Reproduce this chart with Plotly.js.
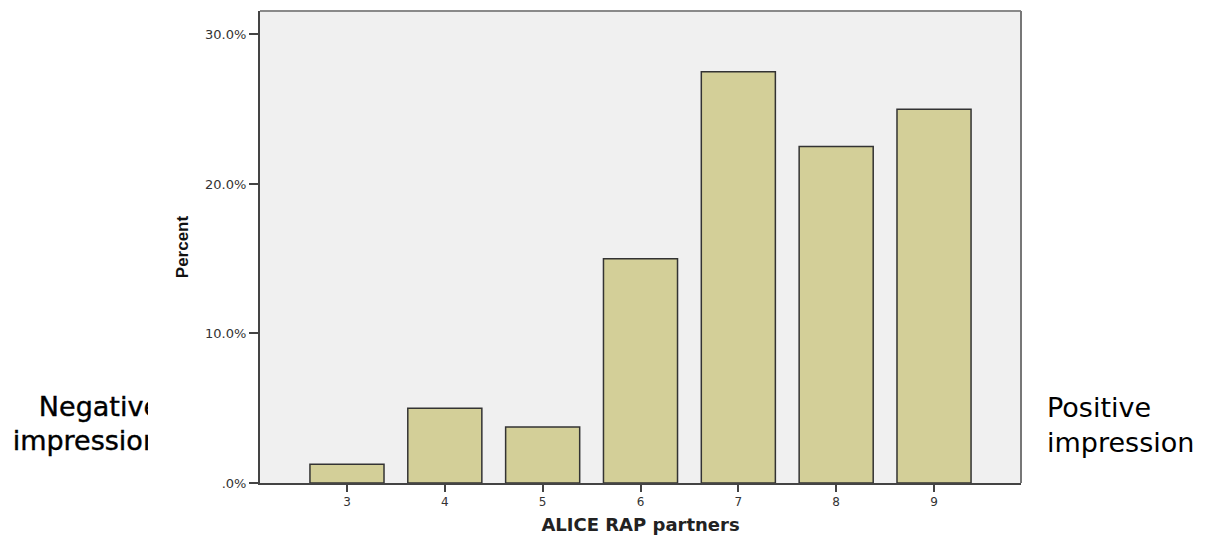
<!DOCTYPE html>
<html>
<head>
<meta charset="utf-8">
<script src="https://cdn.plot.ly/plotly-3.0.1.min.js"></script>
<style>
  html, body { margin: 0; padding: 0; background: #fff; }
  #wrap { position: relative; width: 1212px; height: 536px; }
  #chart { position: absolute; left: 0; top: 0; width: 1212px; height: 536px; }
  #negclip { position: absolute; left: 0; top: 390px; width: 148px; height: 80px; overflow: hidden; }
  #negtext { position: absolute; right: -12px; top: 0; text-align: right; white-space: nowrap;
             font-family: "DejaVu Sans", sans-serif; font-size: 27px; line-height: 34px; color: #000;
             -webkit-text-stroke: 0.4px #000; }
</style>
</head>
<body>
<div id="wrap">
  <div id="chart"></div>
  <div id="negclip"><div id="negtext">Negative<br>impression</div></div>
</div>
<script>
// Data
const categories = [3, 4, 5, 6, 7, 8, 9];
const percentValues = [1.25, 5.0, 3.75, 15.0, 27.5, 22.5, 25.0];
const yTickVals = [0, 10, 20, 30];
const yTickText = [".0%", "10.0%", "20.0%", "30.0%"];
const xTitle = "ALICE RAP partners";
const yTitle = "Percent";
const leftLabel = "Negative<br>impression";
const rightLabel = "Positive<br>impression";

const trace = {
  type: "bar",
  x: categories,
  y: percentValues,
  width: 0.757,
  marker: { color: "#d3cf98", line: { color: "#333333", width: 1.5 } },
  hoverinfo: "x+y"
};

const layout = {
  width: 1212,
  height: 536,
  margin: { l: 260, r: 191, t: 11, b: 53, pad: 0 },
  paper_bgcolor: "#ffffff",
  plot_bgcolor: "#f0f0f0",
  showlegend: false,
  bargap: 0,
  xaxis: {
    range: [2.111, 9.889],
    tickmode: "array",
    tickvals: categories,
    ticktext: categories.map(String),
    ticks: "outside",
    ticklen: 7,
    tickwidth: 2,
    tickcolor: "#444",
    showgrid: false,
    zeroline: false,
    showline: true,
    linecolor: "#444",
    linewidth: 2,
    tickfont: { family: "DejaVu Sans, sans-serif", size: 12, color: "#333" },
    title: { text: xTitle, standoff: 10, font: { family: "DejaVu Sans, sans-serif", size: 18, color: "#222", weight: "bold" } }
  },
  yaxis: {
    range: [0, 31.57],
    tickmode: "array",
    tickvals: yTickVals,
    ticktext: yTickText,
    ticks: "outside",
    ticklen: 9,
    tickwidth: 2,
    tickcolor: "#444",
    showgrid: false,
    zeroline: false,
    showline: true,
    linecolor: "#444",
    linewidth: 2,
    tickfont: { family: "DejaVu Sans, sans-serif", size: 13, color: "#333" },
    title: { text: yTitle, standoff: 12, font: { family: "Liberation Sans, Arial, sans-serif", size: 17, color: "#111", weight: "bold" } }
  },
  shapes: [
    { type: "line", xref: "paper", yref: "paper", x0: 0, x1: 1, y0: 1, y1: 1, line: { color: "#8a8a8a", width: 2 } },
    { type: "line", xref: "paper", yref: "paper", x0: 1, x1: 1, y0: 0, y1: 1, line: { color: "#777", width: 2 } }
  ],
  annotations: [
    { xref: "paper", yref: "paper", x: 1.032, y: 0.123, xanchor: "left", yanchor: "middle", align: "left",
      showarrow: false, text: rightLabel,
      font: { family: "DejaVu Sans, sans-serif", size: 27, color: "#000" } }
  ]
};

Plotly.newPlot("chart", [trace], layout, { displayModeBar: false, staticPlot: true });
</script>
</body>
</html>
